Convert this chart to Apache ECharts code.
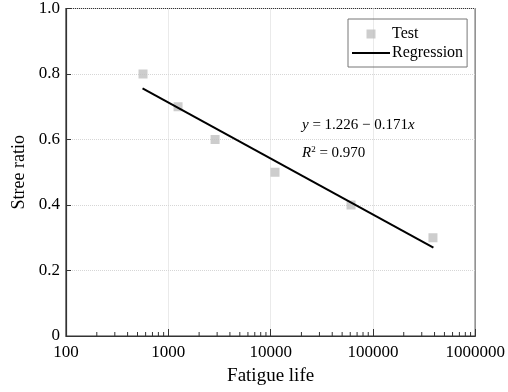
<!DOCTYPE html>
<html>
<head>
<meta charset="utf-8">
<script src="https://cdn.jsdelivr.net/npm/echarts@6/dist/echarts.min.js"></script>
<style>
  html, body { margin: 0; padding: 0; background: #fff; }
  #chart { width: 508px; height: 392px; }
</style>
</head>
<body>
<div id="chart"></div>
<script>
// test points
const testLife = [566, 1245, 2865, 11040, 61100, 386000];
const testRatio = [0.8, 0.7, 0.6, 0.5, 0.4, 0.3];
// regression line end points
const regLife = [560, 390000];
const regRatio = [0.756, 0.270];
// minor ticks on the log axis
const minorLife = [
  200, 300, 400, 500, 600, 700, 800, 900,
  2000, 3000, 4000, 5000, 6000, 7000, 8000, 9000,
  20000, 30000, 40000, 50000, 60000, 70000, 80000, 90000,
  200000, 300000, 400000, 500000, 600000, 700000, 800000, 900000
];

const serif = 'Times New Roman, Liberation Serif, DejaVu Serif, serif';
const chart = echarts.init(document.getElementById('chart'));

const option = {
  animation: false,
  textStyle: { fontFamily: serif },
  grid: {
    left: 66, right: 32, top: 7, bottom: 56,
    show: true,
    borderColor: '#333',
    borderWidth: 1.2,
    backgroundColor: 'transparent'
  },
  legend: {
    orient: 'vertical',
    left: 348,
    top: 19,
    padding: [7, 4, 6, 4],
    itemGap: 3,
    itemWidth: 38,
    itemHeight: 10,
    borderColor: '#777',
    borderWidth: 1,
    textStyle: { fontFamily: serif, fontSize: 16, color: '#000', padding: [0, 0, 0, -3] },
    data: [
      {
        name: 'Test',
        icon: 'path://M0,0L0,0.01M38,0L38,0.01M0,10L0,9.99M14.5,0.5h9v9h-9z',
        itemStyle: { color: '#c0c0c0' }
      },
      {
        name: 'Regression',
        icon: 'path://M0,0L0,0.01M0,10L0,9.99M0,4.1h38v1.8h-38z',
        itemStyle: { color: '#000' }
      }
    ]
  },
  xAxis: {
    type: 'log',
    logBase: 10,
    min: 100,
    max: 1000000,
    name: 'Fatigue life',
    nameLocation: 'middle',
    nameGap: 31,
    nameTextStyle: { fontFamily: serif, fontSize: 19, color: '#000' },
    axisLine: { lineStyle: { color: '#333', width: 1.2 } },
    axisTick: { inside: true, length: 7, lineStyle: { color: '#333' } },
    axisLabel: {
      fontFamily: serif, fontSize: 17, color: '#000', margin: 8,
      formatter: v => String(Math.round(v))
    },
    splitLine: { show: true, lineStyle: { color: '#d6d6d6', type: 'dotted', width: 1 } }
  },
  yAxis: {
    type: 'value',
    min: 0,
    max: 1,
    interval: 0.2,
    name: 'Stree ratio',
    nameLocation: 'middle',
    nameGap: 34,
    nameTextStyle: { fontFamily: serif, fontSize: 18, color: '#000' },
    axisLine: { show: true, lineStyle: { color: '#333', width: 1.2 } },
    axisTick: { show: true, inside: true, length: 5, lineStyle: { color: '#333' } },
    axisLabel: {
      fontFamily: serif, fontSize: 17, color: '#000', margin: 6,
      formatter: v => (v === 0 ? '0' : v.toFixed(1))
    },
    splitLine: { show: true, lineStyle: { color: '#d6d6d6', type: 'dotted', width: 1 } }
  },
  graphic: [
    {
      type: 'text',
      left: 302,
      top: 118,
      style: {
        text: '{i|y} = 1.226 \u2212 0.171{i|x}',
        fontFamily: serif,
        fontSize: 15,
        fill: '#000',
        rich: {
          i: { fontFamily: serif, fontSize: 15, fontStyle: 'italic' }
        }
      }
    },
    {
      type: 'text',
      left: 302,
      top: 145,
      style: {
        text: '{i|R}{s|2} = 0.970',
        fontFamily: serif,
        fontSize: 15,
        fill: '#000',
        rich: {
          i: { fontFamily: serif, fontSize: 15, fontStyle: 'italic' },
          s: { fontFamily: serif, fontSize: 9, padding: [0, 0, 8, 0] }
        }
      }
    }
  ],
  series: [
    {
      name: 'Test',
      type: 'scatter',
      symbol: 'rect',
      symbolSize: 9,
      itemStyle: { color: '#c0c0c0' },
      data: testLife.map((x, i) => [x, testRatio[i]]),
      z: 3
    },
    {
      name: 'Regression',
      type: 'line',
      symbol: 'none',
      lineStyle: { color: '#000', width: 2 },
      itemStyle: { color: '#000' },
      data: regLife.map((x, i) => [x, regRatio[i]]),
      z: 4
    },
    {
      name: 'minor',
      type: 'custom',
      silent: true,
      clip: false,
      data: minorLife.map(x => [x, 0]),
      renderItem: (params, api) => {
        const p = api.coord([api.value(0), 0]);
        return {
          type: 'line',
          shape: { x1: p[0], y1: p[1], x2: p[0], y2: p[1] - 4 },
          style: { stroke: '#333', lineWidth: 1 }
        };
      },
      z: 5
    }
  ]
};

chart.setOption(option);
</script>
</body>
</html>
